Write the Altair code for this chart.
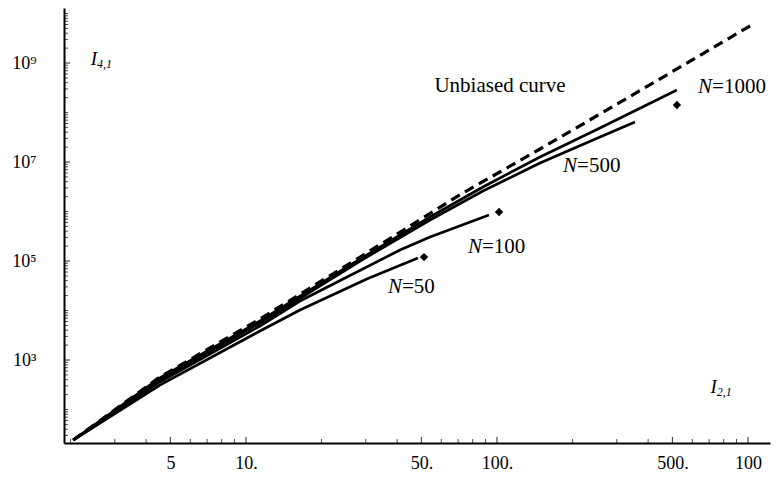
import altair as alt
import pandas as pd

# ---------------- data ----------------
unbiased_x = [2.05, 4.54, 11.37, 28.5, 73.2, 148.4, 257.3, 488.9, 1066.5]
unbiased_y = [24.2, 454, 6730, 1.205e5, 2.37e6, 1.83e7, 9.33e7, 6.28e8, 6.43e9]

n1000_x = [2.05, 4.54, 11.37, 28.5, 54.1, 87.9, 148.4, 257.3, 521]
n1000_y = [24.2, 433, 6140, 1.097e5, 7.74e5, 3.13e6, 1.26e7, 4.86e7, 2.85e8]

n500_x = [2.05, 4.54, 11.37, 28.5, 54.1, 87.9, 148.4, 257.3, 354.6]
n500_y = [24.2, 394, 5590, 1.0e5, 6.73e5, 2.59e6, 9.55e6, 3.20e7, 6.43e7]

n100_x = [2.05, 4.54, 11.37, 16.41, 41.07, 54.1, 92.9]
n100_y = [24.2, 360, 4870, 1.556e4, 1.667e5, 3.05e5, 8.5e5]

n50_x = [2.05, 4.54, 11.37, 16.41, 30.3, 48.4]
n50_y = [24.2, 312, 3855, 1.023e4, 4.33e4, 1.15e5]

marker_x = [51.2, 101.9, 521]
marker_y = [1.2e5, 9.77e5, 1.42e8]

# labels "N=..." : position of the split between "N" and "=value"
nlabel_text = ["=1000", "=500", "=100", "=50"]
nlabel_x = [719, 208.5, 87.1, 41.8]
nlabel_y = [3.27e8, 8.3e6, 1.92e5, 2.99e4]

x_major = [5, 10, 50, 100, 500, 1000]
x_major_labels = ["5", "10.", "50.", "100.", "500.", "100"]
x_minor = [2, 3, 4, 6, 7, 8, 9, 20, 30, 40, 60, 70, 80, 90,
           200, 300, 400, 600, 700, 800, 900]
y_major = [1e3, 1e5, 1e7, 1e9]
y_major_labels = ["10³", "10⁵", "10⁷", "10⁹"]
y_minor = [k * 10 ** n for n in range(1, 11) for k in range(1, 10)
           if 21.05 <= k * 10 ** n <= 1.29e10 and k * 10 ** n not in y_major]

# ---------------- layout ----------------
W, H = 706, 435
X_DOMAIN = [1.8833, 1223.7]
Y_DOMAIN = [21.05, 1.292e10]
FONT = "Liberation Serif"

xscale = alt.Scale(type="log", domain=X_DOMAIN, nice=False)
yscale = alt.Scale(type="log", domain=Y_DOMAIN, nice=False)


def expr_for(values, labels):
    parts = ""
    for v, l in zip(values, labels):
        parts += f"datum.value == {v:g} ? '{l}' : "
    return parts + "''"


x_axis = alt.Axis(values=x_major, labelExpr=expr_for(x_major, x_major_labels),
                  ticks=False, grid=False, title=None, domainColor="black",
                  domainWidth=2, labelFont=FONT, labelFontSize=18,
                  labelColor="black", labelPadding=11, labelFlush=False)
y_axis = alt.Axis(values=y_major, labelExpr=expr_for(y_major, y_major_labels),
                  ticks=False, grid=False, title=None, domainColor="black",
                  domainWidth=2, labelFont=FONT, labelFontSize=18,
                  labelColor="black", labelPadding=28, labelFlush=False)

X = alt.X("x:Q", scale=xscale, axis=x_axis)
Y = alt.Y("y:Q", scale=yscale, axis=y_axis)

dashed_df = pd.DataFrame({"x": unbiased_x, "y": unbiased_y})
solid_df = pd.concat([
    pd.DataFrame({"series": name, "x": xs, "y": ys})
    for name, xs, ys in [("1000", n1000_x, n1000_y), ("500", n500_x, n500_y),
                         ("100", n100_x, n100_y), ("50", n50_x, n50_y)]
], ignore_index=True)
marker_df = pd.DataFrame({"x": marker_x, "y": marker_y})
nlab_df = pd.DataFrame({"x": nlabel_x, "y": nlabel_y, "text": nlabel_text})

dashed = alt.Chart(dashed_df).mark_line(
    color="black", strokeWidth=3.2, strokeDash=[10, 6]).encode(x=X, y=Y)
solid = alt.Chart(solid_df).mark_line(
    color="black", strokeWidth=2.7).encode(x=X, y=Y, detail="series:N")
markers = alt.Chart(marker_df).mark_point(
    shape="diamond", filled=True, color="black", size=70, opacity=1).encode(x=X, y=Y)

n_italic = alt.Chart(nlab_df).mark_text(
    font=FONT, fontSize=21, fontStyle="italic", align="right", baseline="middle",
    color="black").encode(x=X, y=Y, text=alt.value("N"))
n_value = alt.Chart(nlab_df).mark_text(
    font=FONT, fontSize=21, align="left", baseline="middle",
    color="black").encode(x=X, y=Y, text="text:N")

title_df = pd.DataFrame({"x": [102.8], "y": [3.43e8], "text": ["Unbiased curve"]})
title_txt = alt.Chart(title_df).mark_text(
    font=FONT, fontSize=21, align="center", baseline="middle",
    color="black").encode(x=X, y=Y, text="text:N")

axis_I_df = pd.DataFrame({"x": [2.55, 751], "y": [1.205e9, 285]})
axis_sub_df = pd.DataFrame({"x": [2.55, 751], "y": [9.5e8, 226], "text": ["4,1", "2,1"]})
axis_I = alt.Chart(axis_I_df).mark_text(
    font=FONT, fontSize=19, fontStyle="italic", align="right", baseline="middle",
    color="black").encode(x=X, y=Y, text=alt.value("I"))
axis_sub = alt.Chart(axis_sub_df).mark_text(
    font=FONT, fontSize=12, fontStyle="italic", align="left", baseline="middle",
    color="black").encode(x=X, y=Y, text="text:N")

# axis tick marks (inward, Mathematica style)
xt_major = alt.Chart(pd.DataFrame({"x": x_major})).mark_tick(
    color="black", thickness=1.2, size=6, yOffset=-3).encode(x=X, y=alt.value(H))
xt_minor = alt.Chart(pd.DataFrame({"x": x_minor})).mark_tick(
    color="black", thickness=1, size=4, yOffset=-2).encode(x=X, y=alt.value(H))
yt_major = alt.Chart(pd.DataFrame({"y": y_major})).mark_tick(
    color="black", thickness=1.2, size=6, xOffset=3, orient="horizontal").encode(
    y=Y, x=alt.value(0))
yt_minor = alt.Chart(pd.DataFrame({"y": y_minor})).mark_tick(
    color="black", thickness=1, size=4, xOffset=2, orient="horizontal").encode(
    y=Y, x=alt.value(0))

chart = alt.layer(
    dashed, solid, markers, n_italic, n_value, title_txt, axis_I, axis_sub,
    xt_major, xt_minor, yt_major, yt_minor
).properties(
    width=W, height=H,
    autosize=alt.AutoSizeParams(type="none"),
    padding={"left": 56, "top": 0, "right": 2, "bottom": 33},
    background="white",
).configure_view(stroke=None)

chart.save("out.html", embed_options={"renderer": "svg", "actions": False})
